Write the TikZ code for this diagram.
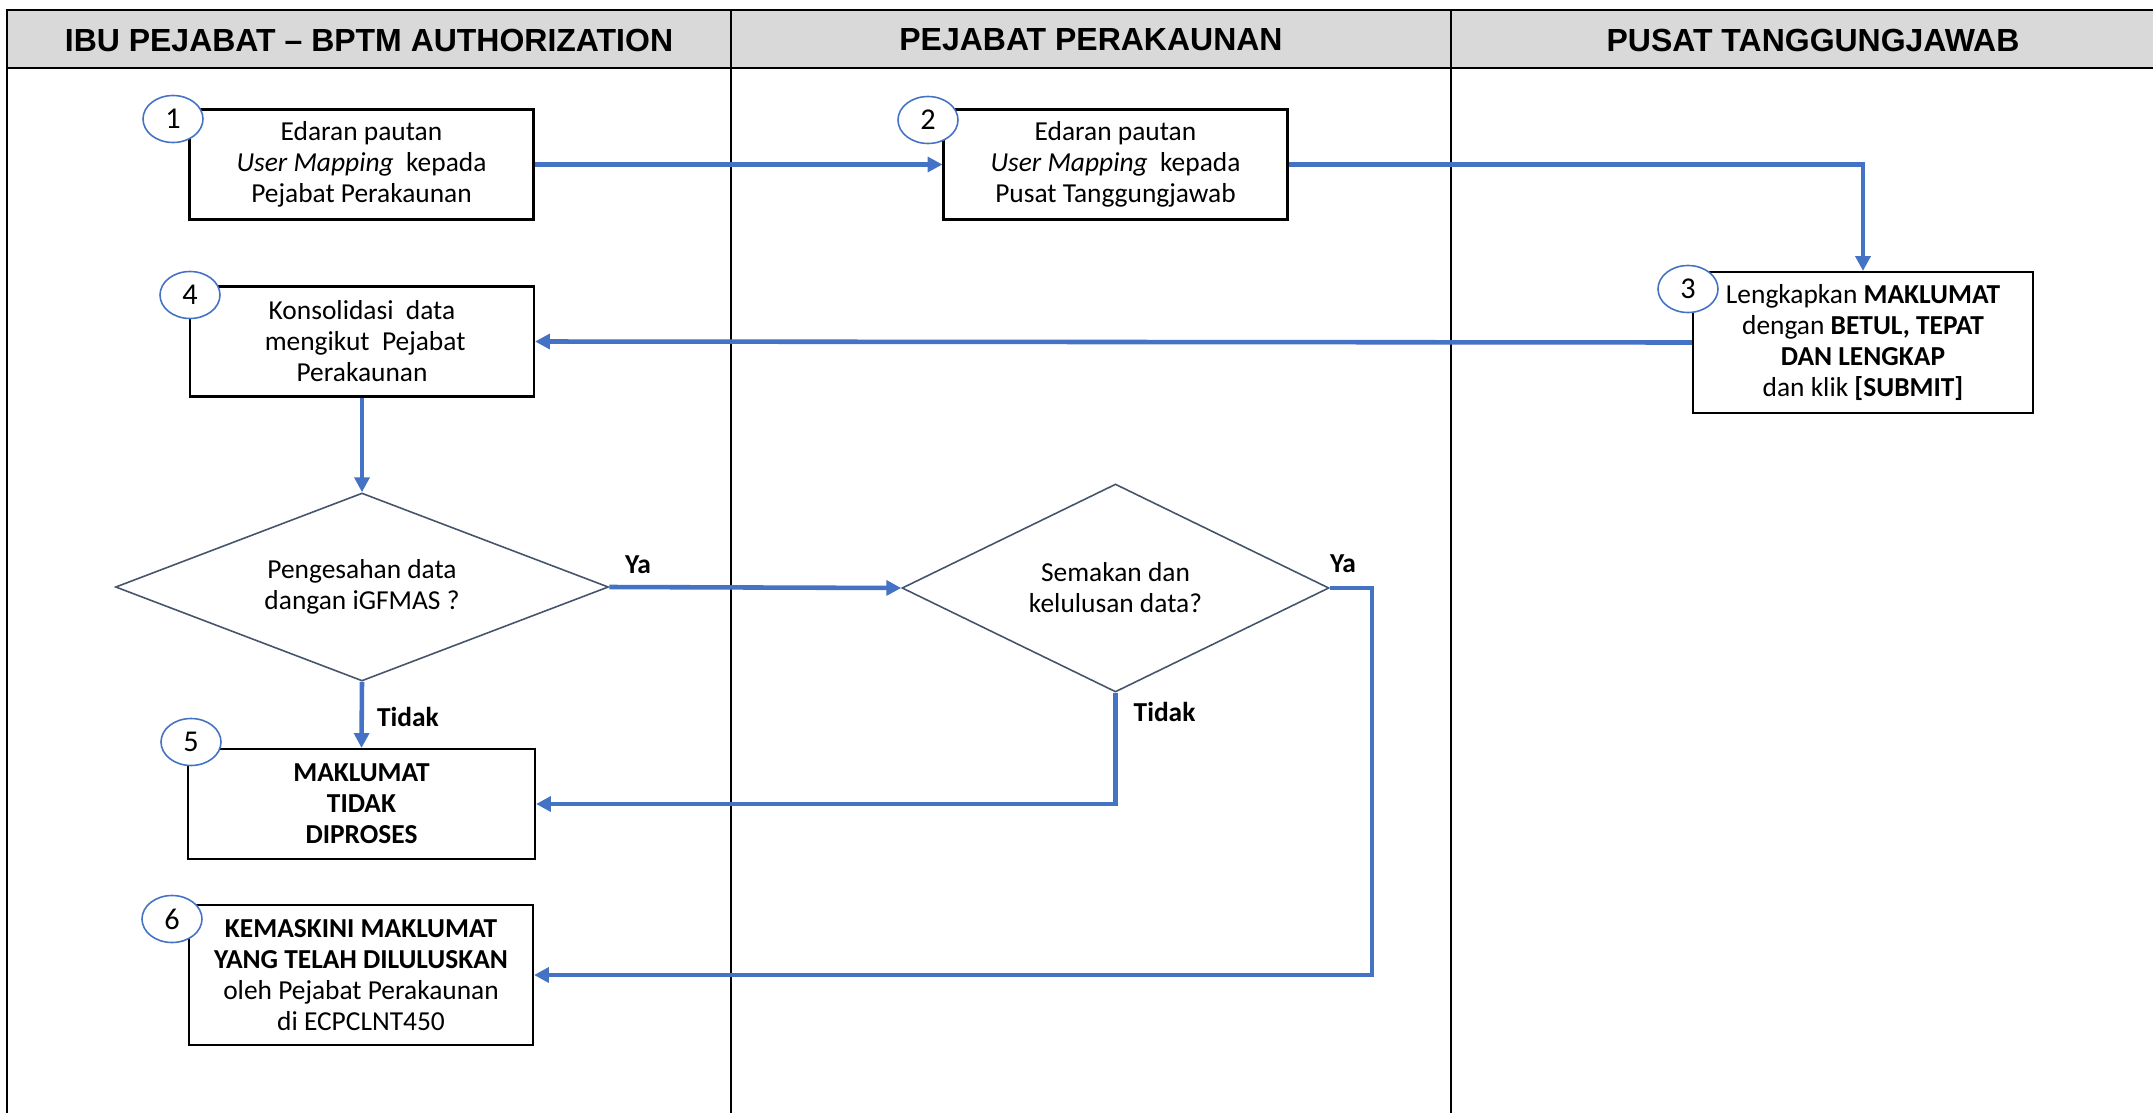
\documentclass[tikz,border=0pt]{standalone}
\usepackage{fontspec}
\setmainfont{Carlito}
\newfontfamily\headfont{Liberation Sans}
\usepackage{xcolor}
\usepackage{tikz}
\usetikzlibrary{arrows.meta,positioning,calc,shapes.geometric}
\definecolor{FlowBlue}{HTML}{4472C4}
\definecolor{HeadGray}{HTML}{D9D9D9}
\definecolor{EdgeSlate}{HTML}{44546A}

\begin{document}
\begin{tikzpicture}[x=0.1mm,y=-0.1mm,>={Triangle[length=4.2pt,width=4.2pt]},
  boxfont/.style={font=\fontsize{7.8}{8.8}\selectfont},
  procbox/.style={boxfont,draw,line width=0.6pt,fill=white,align=center,
    inner sep=1pt,minimum width=34.4mm,minimum height=11mm},
  decide/.style={boxfont,diamond,draw=EdgeSlate,line width=0.45pt,align=center,inner sep=0pt},
  stepnum/.style={ellipse,draw=FlowBlue,line width=0.45pt,fill=white,inner sep=0pt,
    minimum width=6mm,minimum height=4.7mm,font=\fontsize{8.6}{9}\selectfont},
  flow/.style={->,FlowBlue,line width=1.3pt},
  answer/.style={boxfont,font=\fontsize{7.8}{8.8}\selectfont\bfseries,inner sep=0pt},
  lanehead/.style={font=\headfont\fontsize{9.1}{10}\selectfont\bfseries}]
  \useasboundingbox (0,0) rectangle (2153,1113);
  % swimlanes
  \fill[HeadGray] (7,10) rectangle (2170,68);
  \draw[line width=0.6pt] (2170,10) -- (7,10) -- (7,1120);
  \draw[line width=0.5pt] (7,68) -- (2170,68);
  \draw[line width=0.5pt] (731,10) -- (731,1120);
  \draw[line width=0.5pt] (1451,10) -- (1451,1120);
  \node[lanehead] (hd1) at (369,40) {IBU PEJABAT \textendash\ BPTM AUTHORIZATION};
  \node[lanehead] (hd2) at (1091,40) {PEJABAT PERAKAUNAN};
  \node[lanehead] (hd3) at (1813,40) {PUSAT TANGGUNGJAWAB};

  % steps
  \node[procbox] (edar1) at (361.5,164.5)
      {Edaran pautan\\\textit{User Mapping}\ \ kepada\\Pejabat Perakaunan};
  \node[procbox] (edar2) at (1115.5,164.5)
      {Edaran pautan\\\textit{User Mapping}\ \ kepada\\Pusat Tanggungjawab};
  \node[procbox,minimum width=34mm,minimum height=14.1mm] (lengkap) at (1863,342.5)
      {Lengkapkan \textbf{MAKLUMAT}\\dengan \textbf{BETUL, TEPAT}\\\textbf{DAN LENGKAP}\\dan klik \textbf{[SUBMIT]}};
  \node[procbox] (konsol) at (362,341.5)
      {Konsolidasi\ \ data\\\ mengikut\ \ Pejabat\\Perakaunan};
  \node[decide,aspect=2.62,minimum width=49.3mm,minimum height=18.8mm] (sah) at (362,587)
      {Pengesahan data\\dangan iGFMAS ?};
  \node[decide,aspect=2.05,minimum width=42.7mm,minimum height=20.8mm] (semak) at (1115.5,588)
      {Semakan dan\\kelulusan data?};
  \node[procbox,minimum width=34.7mm] (tolak) at (361.5,804)
      {\textbf{MAKLUMAT}\\\textbf{TIDAK}\\\textbf{DIPROSES}};
  \node[procbox,minimum height=14mm] (kemaskini) at (361,975)
      {\textbf{KEMASKINI MAKLUMAT}\\\textbf{YANG TELAH DILULUSKAN}\\oleh Pejabat Perakaunan\\di ECPCLNT450};

  % step numbers
  \node[stepnum] (n1) at (173,119) {1};
  \node[stepnum] (n2) at (928,120) {2};
  \node[stepnum] (n3) at (1688,289) {3};
  \node[stepnum] (n4) at (190,295) {4};
  \node[stepnum] (n5) at (191,742) {5};
  \node[stepnum] (n6) at (172,919) {6};

  % connectors
  \coordinate (yaturn) at (1372,588);
  \draw[flow] (edar1.east) -- (edar2.west);
  \draw[flow] (edar2.east) -| (lengkap.north);
  \draw[flow] (lengkap.west) -- (konsol.east);
  \draw[flow] (konsol.south) -- (sah.north);
  \draw[flow] (sah.east) -- (semak.west);
  \draw[flow] (sah.south) -- (tolak.north);
  \draw[flow] (semak.south) |- (tolak.east);
  \draw[flow] (semak.east) -- (yaturn) |- (kemaskini.east);

  % answers
  \node[answer] (ya1) at (638,565) {Ya};
  \node[answer] (tidak1) at (408,717) {Tidak};
  \node[answer] (ya2) at (1343,564) {Ya};
  \node[answer,anchor=west] (tidak2) at (1133,712) {Tidak};
\end{tikzpicture}
\end{document}
